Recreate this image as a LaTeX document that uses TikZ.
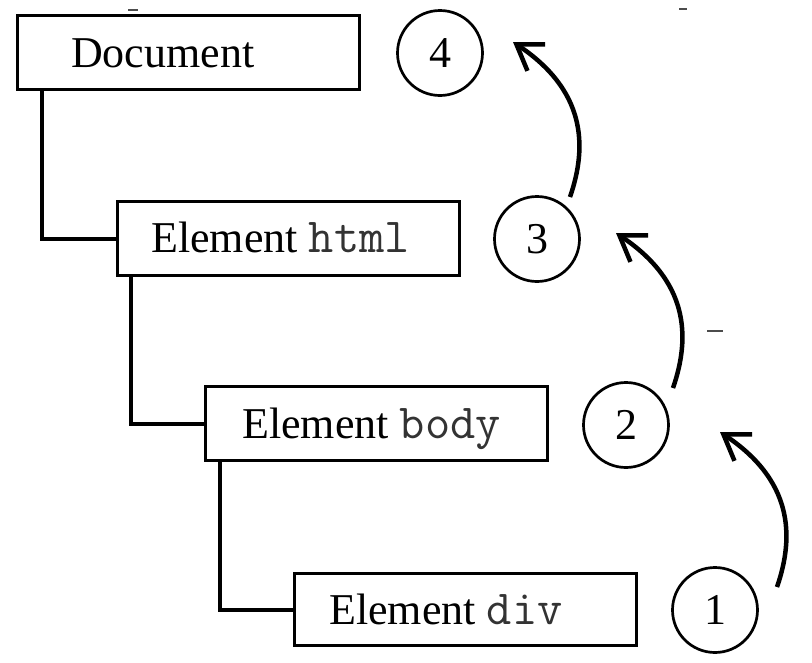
\documentclass[tikz,border=0pt]{standalone}
\usepackage{fontspec}
\setmainfont{Liberation Serif}
\usetikzlibrary{arrows.meta}
\newcommand{\codetxt}[1]{{\ttfamily\fontsize{49}{50}\selectfont\color{black!80}#1}}
\begin{document}
\begin{tikzpicture}[x=1pt,y=-1pt,
  box/.style={draw, line width=3pt, minimum width=342pt, minimum height=74pt, inner sep=0pt},
  lbl/.style={anchor=base west, inner sep=0pt, font=\fontsize{44}{50}\selectfont},
  num/.style={draw, circle, line width=2.7pt, minimum size=85pt, inner sep=0pt, font=\fontsize{44}{50}\selectfont},
  tree/.style={line width=4pt},
  up/.style={line width=4.5pt, -{Straight Barb[length=24pt,width=32pt]}},
  speck/.style={line width=1.5pt, black!70}
]
\useasboundingbox (0,0) rectangle (812,662);
% boxes
\node[box] (doc) at (188.5,52) {};
\node[box] (html) at (288,238.5) {};
\node[box] (body) at (376,423.5) {};
\node[box, minimum height=72pt] (div) at (465.5,609.5) {};
% labels
\node[lbl] (tdoc) at (71,67) {Document};
\node[lbl] (thtml) at (151,252) {Element \codetxt{html}};
\node[lbl] (tbody) at (242,438) {Element \codetxt{body}};
\node[lbl] (tdiv) at (329,624) {Element \codetxt{div}};
% tree connectors
\draw[tree] ([xshift=25.5pt]doc.south west) |- (html.west);
\draw[tree] ([xshift=15.5pt]html.south west) |- (body.west);
\draw[tree] ([xshift=16.5pt]body.south west) |- (div.west);
% numbered circles
\node[num] (n4) at (440,53) {4};
\node[num] (n3) at (537,239) {3};
\node[num] (n2) at (626,425) {2};
\node[num] (n1) at (715,610) {1};
% arrow end points
\coordinate (s1) at (777,587); \coordinate (e1) at (720,432);
\coordinate (s2) at (673,388); \coordinate (e2) at (616,233);
\coordinate (s3) at (570,197); \coordinate (e3) at (513,42);
\draw[up] (s1) .. controls +(18,-52) and +(72,48) .. (e1);
\draw[up] (s2) .. controls +(18,-52) and +(72,48) .. (e2);
\draw[up] (s3) .. controls +(18,-52) and +(72,48) .. (e3);
% scan specks
\draw[speck] (128,10) -- (138,10);
\draw[speck] (679,9) -- (687,9);
\draw[speck] (707,331) -- (723,331);
\end{tikzpicture}
\end{document}
